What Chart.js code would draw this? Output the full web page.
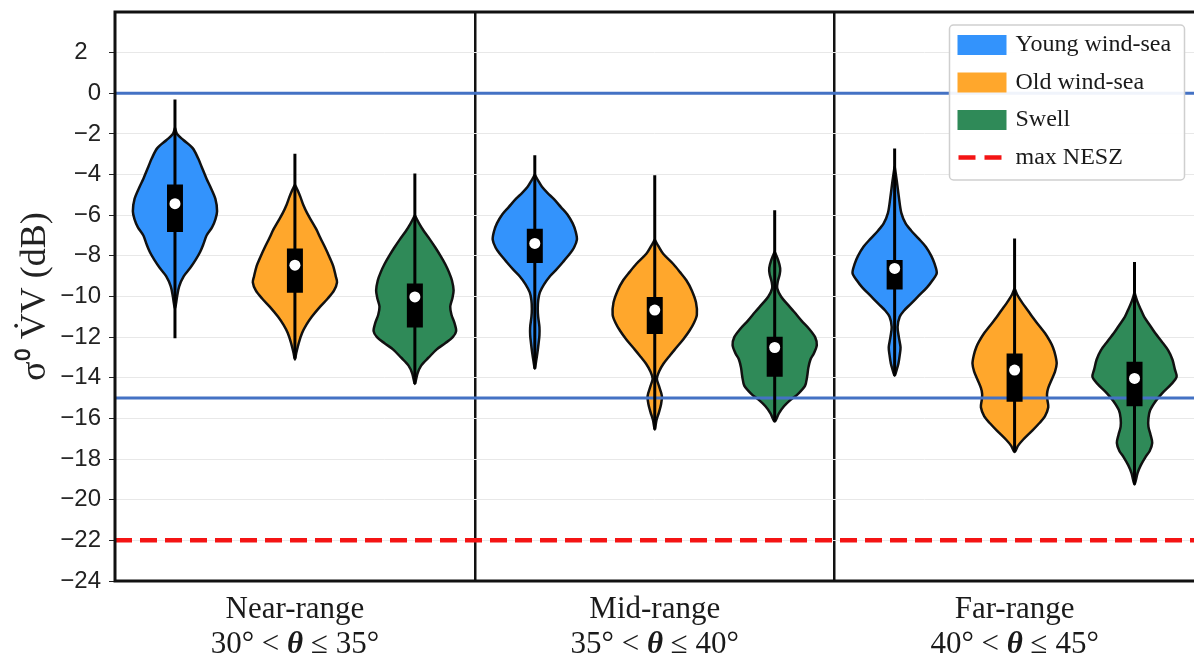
<!DOCTYPE html>
<html>
<head>
<meta charset="utf-8">
<script src="https://cdn.jsdelivr.net/npm/chart.js@4.4.1/dist/chart.umd.min.js"></script>
<style>
  html, body { margin: 0; padding: 0; background: #fff; overflow: hidden; }
  canvas { display: block; }
</style>
</head>
<body>
<canvas id="chart" width="1200" height="660"></canvas>
<script>
// categories and labels
const groups = ['Near-range', 'Mid-range', 'Far-range'];
const angleLow = ['30°', '35°', '40°'];
const angleHigh = ['35°', '40°', '45°'];
const seriesNames = ['Young wind-sea', 'Old wind-sea', 'Swell'];
const seriesColors = ['#3393fc', '#ffa72c', '#2f8a58'];

// reference lines (dB)
const refLines = [0, -15];
const maxNesz = -22;

// violin outlines: [value dB, relative density] from top to bottom, one per group
const youngShape = [
  [[-1.7,0],[-2.0,0.05],[-2.3,0.2],[-2.7,0.42],[-3.2,0.55],[-3.6,0.63],[-4.2,0.75],[-4.6,0.84],[-5.2,0.96],[-5.8,1.0],[-6.2,0.96],[-6.6,0.88],[-7.0,0.75],[-7.4,0.68],[-7.8,0.6],[-8.2,0.49],[-8.6,0.36],[-9.0,0.21],[-9.5,0.1],[-10.0,0.05],[-10.6,0]],
  [[-4.0,0],[-4.3,0.08],[-4.6,0.17],[-4.9,0.3],[-5.2,0.45],[-5.6,0.62],[-5.95,0.77],[-6.4,0.9],[-6.8,0.97],[-7.2,1.0],[-7.6,0.93],[-7.9,0.83],[-8.3,0.67],[-8.7,0.5],[-9.0,0.36],[-9.4,0.22],[-9.8,0.12],[-10.2,0.08],[-10.6,0.07],[-11.0,0.08],[-11.5,0.11],[-11.9,0.11],[-12.3,0.09],[-12.8,0.06],[-13.2,0.03],[-13.55,0]],
  [[-3.6,0],[-4.3,0.05],[-5.1,0.1],[-5.9,0.16],[-6.4,0.26],[-6.75,0.39],[-7.15,0.57],[-7.55,0.74],[-8.0,0.87],[-8.4,0.95],[-8.85,1.0],[-9.2,0.9],[-9.55,0.77],[-9.95,0.58],[-10.35,0.39],[-10.7,0.22],[-11.0,0.12],[-11.5,0.07],[-12.0,0.1],[-12.5,0.14],[-12.9,0.12],[-13.3,0.09],[-13.6,0.05],[-13.9,0]]
];
const oldShape = [
  [[-4.5,0],[-4.8,0.07],[-5.1,0.13],[-5.5,0.2],[-5.9,0.29],[-6.3,0.4],[-6.7,0.51],[-7.1,0.6],[-7.6,0.72],[-8.1,0.83],[-8.5,0.91],[-9.0,0.97],[-9.3,1.0],[-9.7,0.93],[-10.1,0.78],[-10.5,0.6],[-11.0,0.4],[-11.4,0.27],[-11.8,0.17],[-12.3,0.09],[-12.8,0.03],[-13.1,0]],
  [[-7.2,0],[-7.5,0.08],[-7.9,0.2],[-8.4,0.44],[-8.8,0.6],[-9.2,0.75],[-9.7,0.88],[-10.3,0.98],[-10.9,1.0],[-11.3,0.93],[-11.7,0.82],[-12.1,0.68],[-12.5,0.52],[-12.9,0.36],[-13.3,0.21],[-13.7,0.1],[-14.05,0.05],[-14.4,0.1],[-14.9,0.17],[-15.3,0.15],[-15.7,0.1],[-16.1,0.04],[-16.55,0]],
  [[-9.6,0],[-9.9,0.06],[-10.3,0.18],[-10.7,0.32],[-11.0,0.42],[-11.4,0.57],[-11.8,0.72],[-12.2,0.84],[-12.5,0.91],[-12.9,0.97],[-13.3,1.0],[-13.7,0.96],[-14.1,0.88],[-14.5,0.8],[-14.8,0.77],[-15.1,0.78],[-15.45,0.8],[-15.9,0.72],[-16.25,0.58],[-16.6,0.42],[-17.05,0.2],[-17.35,0.08],[-17.65,0]]
];
const swellShape = [
  [[-6.0,0],[-6.4,0.1],[-6.8,0.22],[-7.2,0.36],[-7.6,0.49],[-8.0,0.61],[-8.4,0.72],[-8.8,0.81],[-9.2,0.88],[-9.7,0.92],[-10.1,0.89],[-10.5,0.84],[-10.9,0.87],[-11.3,0.94],[-11.7,0.98],[-12.0,0.9],[-12.3,0.72],[-12.6,0.52],[-13.0,0.33],[-13.4,0.15],[-13.8,0.06],[-14.3,0]],
  [[-7.8,0],[-8.2,0.08],[-8.6,0.13],[-8.9,0.12],[-9.3,0.07],[-9.6,0.06],[-10.0,0.15],[-10.35,0.29],[-10.75,0.46],[-11.2,0.64],[-11.6,0.82],[-12.0,0.96],[-12.4,1.0],[-12.8,0.93],[-13.1,0.85],[-13.5,0.8],[-13.95,0.77],[-14.4,0.72],[-14.8,0.55],[-15.1,0.37],[-15.4,0.22],[-15.75,0.1],[-16.15,0]],
  [[-9.8,0],[-10.2,0.06],[-10.6,0.14],[-11.0,0.23],[-11.4,0.36],[-11.8,0.49],[-12.2,0.64],[-12.65,0.8],[-13.1,0.9],[-13.6,0.96],[-13.95,1.0],[-14.3,0.88],[-14.75,0.66],[-15.15,0.5],[-15.6,0.37],[-16.0,0.33],[-16.4,0.33],[-16.8,0.38],[-17.2,0.42],[-17.6,0.36],[-17.9,0.26],[-18.3,0.15],[-18.7,0.07],[-19.25,0]]
];

// whisker extent [top, bottom], box [q3, q1], median
const youngRange = [[-0.3,-12.05],[-3.05,-13.55],[-2.72,-13.9]];
const oldRange = [[-2.97,-13.05],[-4.03,-16.55],[-7.15,-17.65]];
const swellRange = [[-3.95,-14.3],[-5.75,-16.15],[-8.3,-19.25]];
const youngBox = [[-4.49,-6.82],[-6.66,-8.35],[-8.21,-9.66]];
const oldBox = [[-7.64,-9.82],[-10.02,-11.85],[-12.8,-15.18]];
const swellBox = [[-9.36,-11.52],[-11.98,-13.95],[-13.21,-15.4]];
const youngMedian = [-5.43, -7.39, -8.62];
const oldMedian = [-8.46, -10.67, -13.62];
const swellMedian = [-10.02, -12.51, -14.03];

const shapes = [youngShape, oldShape, swellShape];
const ranges = [youngRange, oldRange, swellRange];
const boxes = [youngBox, oldBox, swellBox];
const medians = [youngMedian, oldMedian, swellMedian];

const HALF = 0.117;            // max half width of a violin, in x units
const OFFSETS = [-1 / 3, 0, 1 / 3];

function violinPoints(center, shape) {
  const right = shape.map(([v, d]) => ({x: center + d * HALF, y: v}));
  const left = shape.slice().reverse().map(([v, d]) => ({x: center - d * HALF, y: v}));
  return right.concat(left.slice(1));
}

const datasets = [];
shapes.forEach((seriesShapes, s) => {
  groups.forEach((g, i) => {
    const c = i + 0.5 + OFFSETS[s];
    datasets.push({
      data: violinPoints(c, seriesShapes[i]),
      showLine: true, fill: 'shape', tension: 0.3,
      backgroundColor: seriesColors[s], borderColor: '#111', borderWidth: 2.5,
      pointRadius: 0, order: 5
    });
    datasets.push({
      data: [{x: c, y: ranges[s][i][0]}, {x: c, y: ranges[s][i][1]}],
      showLine: true, borderColor: '#000', borderWidth: 3, pointRadius: 0, order: 3
    });
    datasets.push({
      data: [{x: c, y: boxes[s][i][0]}, {x: c, y: boxes[s][i][1]}],
      showLine: true, borderColor: '#000', borderWidth: 16, borderCapStyle: 'butt',
      pointRadius: 0, order: 2
    });
    datasets.push({
      data: [{x: c, y: medians[s][i]}],
      pointRadius: 5.5, pointBackgroundColor: '#fff', pointBorderWidth: 0, order: 1
    });
  });
});
refLines.forEach(v => {
  datasets.push({
    data: [{x: 0, y: v}, {x: 3, y: v}],
    showLine: true, borderColor: '#4472c4', borderWidth: 3, pointRadius: 0, order: 4
  });
});
datasets.push({
  data: [{x: 0, y: maxNesz}, {x: 3, y: maxNesz}],
  showLine: true, borderColor: '#f41414', borderWidth: 4.5, borderDash: [17, 8],
  pointRadius: 0, order: 0
});

const framePlugin = {
  id: 'frame',
  afterDraw(chart) {
    const {ctx, chartArea: ca, width} = chart;
    ctx.save();
    ctx.strokeStyle = '#111';
    ctx.lineWidth = 3;
    ctx.beginPath();
    ctx.moveTo(width, ca.bottom);
    ctx.lineTo(ca.left, ca.bottom);
    ctx.lineTo(ca.left, ca.top);
    ctx.lineTo(width, ca.top);
    ctx.stroke();
    ctx.restore();
  }
};

const groupLabels = {
  id: 'groupLabels',
  afterDraw(chart) {
    const {ctx, chartArea: ca, scales: {x}} = chart;
    const normal = '31px "Liberation Serif"';
    const bold = 'italic bold 31px "Liberation Serif"';
    ctx.save();
    ctx.fillStyle = '#1a1a1a';
    ctx.textBaseline = 'alphabetic';
    groups.forEach((g, i) => {
      const cx = x.getPixelForValue(i + 0.5);
      ctx.font = normal;
      ctx.textAlign = 'center';
      ctx.fillText(g, cx, ca.bottom + 37);
      const parts = [[angleLow[i] + ' < ', normal], ['θ', bold], [' ≤ ' + angleHigh[i], normal]];
      let total = 0;
      parts.forEach(([t, f]) => { ctx.font = f; total += ctx.measureText(t).width; });
      let px = cx - total / 2;
      ctx.textAlign = 'left';
      parts.forEach(([t, f]) => {
        ctx.font = f;
        ctx.fillText(t, px, ca.bottom + 72);
        px += ctx.measureText(t).width;
      });
    });
    ctx.restore();
  }
};

const boxLegend = {
  id: 'boxLegend',
  afterDraw(chart) {
    const {ctx, chartArea: ca} = chart;
    const w = 235, h = 155;
    const x0 = ca.right - 10 - w, y0 = ca.top + 13;
    ctx.save();
    ctx.beginPath();
    ctx.roundRect(x0, y0, w, h, 4);
    ctx.fillStyle = 'rgba(255,255,255,0.92)';
    ctx.fill();
    ctx.strokeStyle = '#cfcfcf';
    ctx.lineWidth = 1.5;
    ctx.stroke();
    ctx.font = '24px "Liberation Serif"';
    ctx.textBaseline = 'middle';
    ctx.textAlign = 'left';
    seriesNames.forEach((name, i) => {
      const cy = y0 + 20 + i * 37.5;
      ctx.fillStyle = seriesColors[i];
      ctx.fillRect(x0 + 8, cy - 10, 49, 20);
      ctx.fillStyle = '#1a1a1a';
      ctx.fillText(name, x0 + 66, cy);
    });
    const cy = y0 + 20 + 3 * 37.5;
    ctx.strokeStyle = '#f41414';
    ctx.lineWidth = 4.5;
    ctx.setLineDash([17, 9]);
    ctx.beginPath();
    ctx.moveTo(x0 + 9, cy);
    ctx.lineTo(x0 + 57, cy);
    ctx.stroke();
    ctx.setLineDash([]);
    ctx.fillStyle = '#1a1a1a';
    ctx.fillText('max NESZ', x0 + 66, cy);
    ctx.restore();
  }
};

new Chart(document.getElementById('chart'), {
  type: 'scatter',
  data: {datasets},
  options: {
    responsive: false,
    animation: false,
    layout: {padding: {top: 12, right: 1, left: 0, bottom: 0}},
    plugins: {legend: {display: false}, tooltip: {enabled: false}},
    scales: {
      x: {
        type: 'linear', min: 0, max: 3,
        afterBuildTicks: s => { s.ticks = [0, 1, 2, 3].map(v => ({value: v})); },
        afterFit: s => { s.height = 79; s.paddingLeft = 0; s.paddingRight = 0; },
        ticks: {display: false},
        border: {display: false},
        grid: {
          drawTicks: false,
          lineWidth: 2.5,
          color: c => (c.tick && (c.tick.value === 1 || c.tick.value === 2)) ? '#111' : 'rgba(0,0,0,0)'
        }
      },
      y: {
        type: 'linear', min: -24, max: 4,
        afterBuildTicks: s => { s.ticks = s.ticks.filter(t => t.value <= 2); },
        afterFit: s => { s.width = 115; s.paddingTop = 0; s.paddingBottom = 0; },
        border: {display: false},
        grid: {color: '#e8e8e8', lineWidth: 1, tickColor: '#222', tickLength: 6},
        ticks: {
          stepSize: 2,
          padding: 8,
          color: '#222',
          font: {family: '"Liberation Sans"', size: 24},
          // the positive label sits one digit left, as in the source figure
          callback: v => v > 0 ? v + '\u2007' : String(v).replace('-', '\u2212')
        },
        title: {
          display: true,
          text: 'σ⁰ V\u0307V (dB)',
          color: '#222',
          font: {family: '"Liberation Serif"', size: 36},
          padding: {top: 14, bottom: 0}
        }
      }
    }
  },
  plugins: [framePlugin, groupLabels, boxLegend]
});
</script>
</body>
</html>
